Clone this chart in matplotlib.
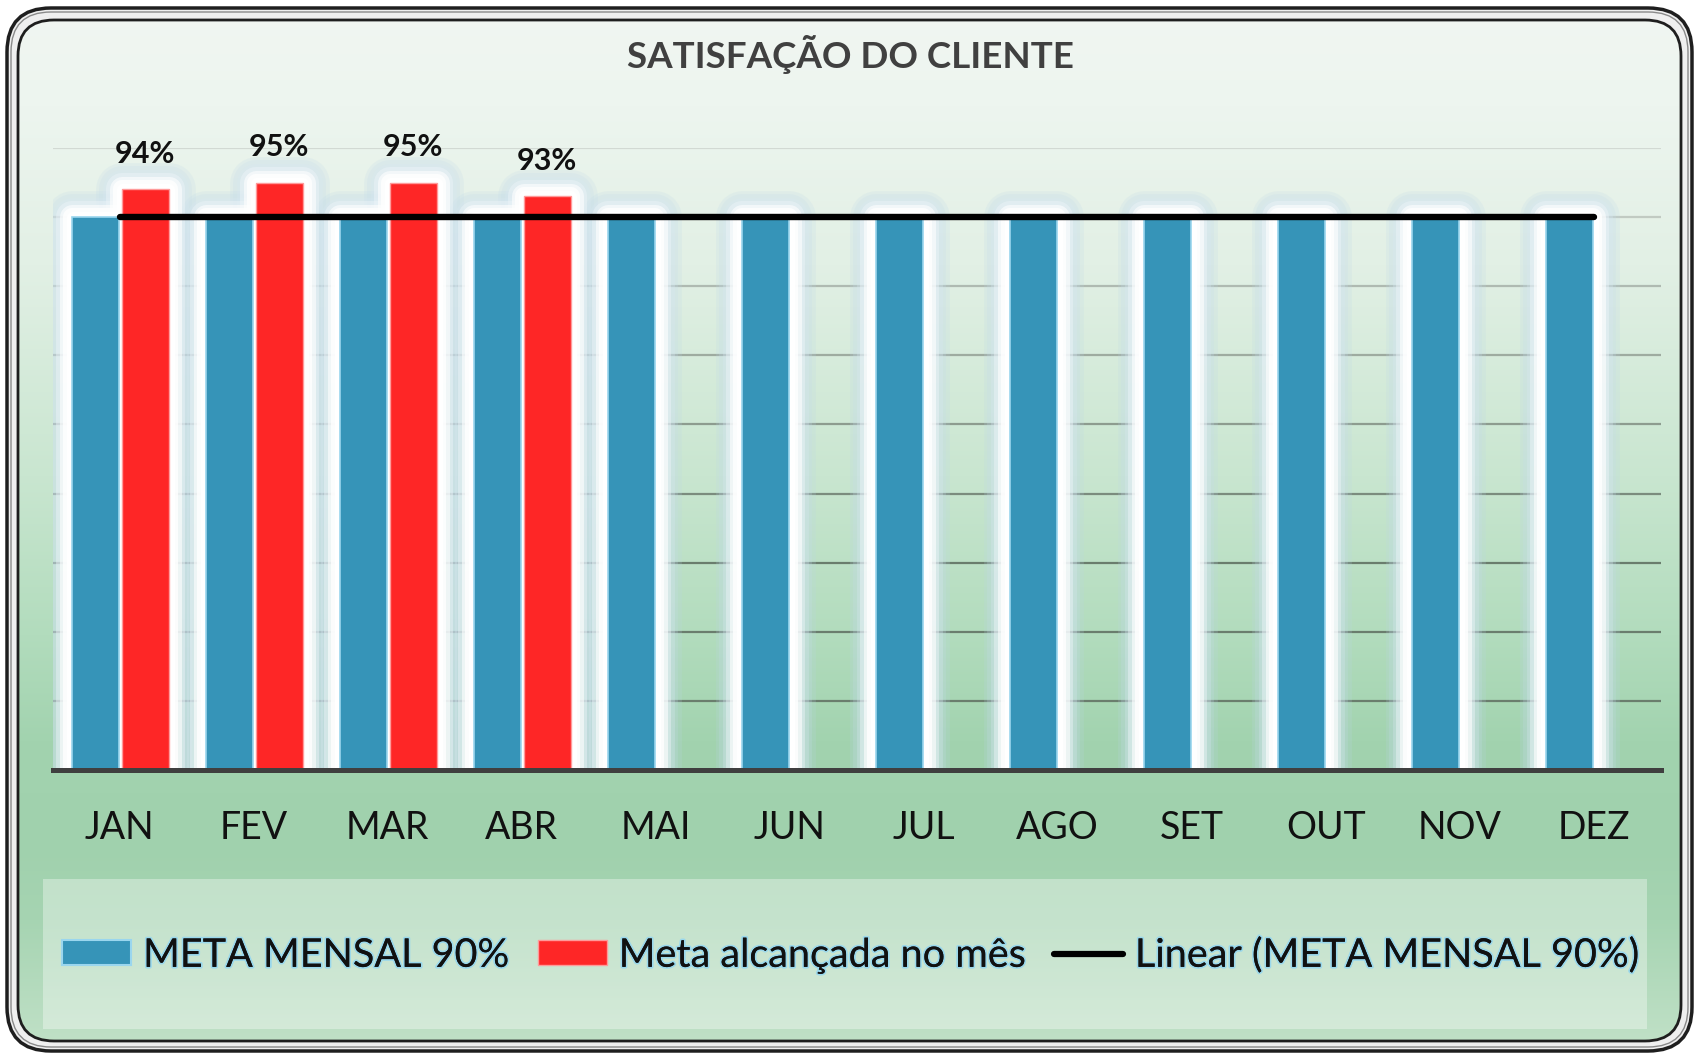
import numpy as np
import matplotlib
matplotlib.use('Agg')
import matplotlib.pyplot as plt
import matplotlib.patheffects as pe
from matplotlib.patches import FancyBboxPatch, Rectangle, Patch
from matplotlib.lines import Line2D
from matplotlib.transforms import IdentityTransform
from matplotlib.colors import to_rgb

# dados
meses = ['JAN', 'FEV', 'MAR', 'ABR', 'MAI', 'JUN', 'JUL', 'AGO', 'SET', 'OUT', 'NOV', 'DEZ']
meta_mensal = [90, 90, 90, 90, 90, 90, 90, 90, 90, 90, 90, 90]
meta_alcancada = [94, 95, 95, 93]
titulo = 'SATISFAÇÃO DO CLIENTE'
rotulos_legenda = ['META MENSAL 90%', 'Meta alcançada no mês', 'Linear (META MENSAL 90%)']

AZUL = '#3694b8'
VERMELHO = '#fe2626'
W, H = 1698, 1058

plt.rcParams['font.family'] = ['Lato', 'DejaVu Sans']

fig = plt.figure(figsize=(W / 100, H / 100), dpi=100)
fig.patch.set_facecolor('white')


def caixa_px(x0, y0, x1, y1, r, **kw):
    # retangulo arredondado em pixels (origem no topo)
    return FancyBboxPatch((x0, H - y1), x1 - x0, y1 - y0,
                          boxstyle=f'round,pad=0,rounding_size={r}',
                          transform=IdentityTransform(), **kw)


# moldura dupla
fig.add_artist(caixa_px(7, 8, 1692, 1051, 44, facecolor='#efefef', edgecolor='#1e1e1e', lw=2.5, zorder=-3))
fig.add_artist(caixa_px(11, 12, 1688, 1047, 40, facecolor='none', edgecolor='#8a8a8a', lw=1, zorder=-3))

# fundo em degrade
paradas = [0.00, 0.10, 0.25, 0.45, 0.60, 0.70, 0.80, 0.87, 1.00]
cores = ['#f1f6f2', '#edf5ef', '#e2f0e5', '#c9e6d0', '#b2dcbd', '#a2d3af', '#a0d1ad', '#a6d4b2', '#c3e2c9']
rgb = np.array([to_rgb(c) for c in cores])
yy = np.linspace(0, 1, 600)
grad = np.stack([np.interp(yy, paradas, rgb[:, k]) for k in range(3)], axis=-1)[:, None, :]

bg = fig.add_axes([0, 0, 1, 1], zorder=-2)
bg.set_axis_off()
im = bg.imshow(grad, aspect='auto', extent=[0, 1, 0, 1], origin='upper')
bg.set_xlim(0, 1)
bg.set_ylim(0, 1)
clip = caixa_px(18, 20, 1681, 1041, 36)
im.set_clip_path(clip)
fig.add_artist(caixa_px(18, 20, 1681, 1041, 36, facecolor='none', edgecolor='#1e1e1e', lw=2, zorder=6))

# area do grafico
ax = fig.add_axes([52.5 / W, 1 - 770 / H, (1660.7 - 52.5) / W, (770 - 148) / H])
ax.set_facecolor('none')

x = np.arange(len(meses))
xa = x[:len(meta_alcancada)]
larg = 0.35

# brilho suave em volta das barras (de fora para dentro)
camadas = [(38, '#bcd6e8', 0.18), (33, '#c6dcec', 0.22), (28, '#d8e8f2', 0.3),
           (23, '#eef5fa', 0.45), (18, 'white', 0.6), (13, 'white', 0.8), (8, 'white', 1.0)]
for lw, cor, a in camadas:
    ax.bar(x - 0.178, meta_mensal, larg, color=cor, edgecolor=cor, lw=lw, alpha=a,
           joinstyle='round', zorder=1)
    ax.bar(xa + 0.192, meta_alcancada, larg, color=cor, edgecolor=cor, lw=lw, alpha=a,
           joinstyle='round', zorder=1)

ax.bar(x - 0.178, meta_mensal, larg, color=AZUL, edgecolor='#9ad6ee', lw=1.2, zorder=2)
ax.bar(xa + 0.192, meta_alcancada, larg, color=VERMELHO, edgecolor='#ff9a9a', lw=1.0, zorder=2)

coef = np.polyfit(x, meta_mensal, 1)
ax.plot(x, np.polyval(coef, x), color='black', lw=4.6, solid_capstyle='round', zorder=3)

for xi, v in zip(xa, meta_alcancada):
    ax.annotate(f'{v}%', (xi + 0.192, v), xytext=(0, 19), textcoords='offset points',
                ha='center', va='baseline', fontsize=22, fontweight='bold', color='#111111')

ax.set_xlim(-0.5, len(meses) - 0.5)
ax.set_ylim(10, 100)
yticks = np.arange(10, 101, 10)
ax.set_yticks(yticks)
ax.set_axisbelow(True)
ax.yaxis.grid(True, lw=1.6)
claro, escuro = np.array(to_rgb('#d2d9d3')), np.array(to_rgb('#6a7d6d'))
for val, gl in zip(yticks, ax.get_ygridlines()):
    t = np.clip((100 - val) / 60, 0, 1)
    gl.set_color(claro + (escuro - claro) * t)
ax.tick_params(axis='y', left=False, labelleft=False)
ax.set_xticks(x, meses)
ax.tick_params(axis='x', length=0, pad=29, labelsize=27, labelcolor='#111111')
for s in ['left', 'right', 'top']:
    ax.spines[s].set_visible(False)
ax.spines['bottom'].set_color('#3f3f3f')
ax.spines['bottom'].set_linewidth(3.6)

fig.text(850 / W, 1 - 54 / H, titulo, ha='center', va='center', fontsize=26.5,
         fontweight='bold', color='#404040')

# legenda
fig.add_artist(Rectangle((43 / W, 1 - 1029 / H), (1647 - 43) / W, (1029 - 879) / H,
                         transform=fig.transFigure, facecolor='white', alpha=0.35,
                         edgecolor='none', zorder=1))
handles = [Patch(facecolor=AZUL, edgecolor='#9ad6ee', lw=1.5),
           Patch(facecolor=VERMELHO, edgecolor='#ff9a9a', lw=1),
           Line2D([], [], color='black', lw=4.5, solid_capstyle='round')]
leg = fig.legend(handles, rotulos_legenda, loc='center', bbox_to_anchor=(851 / W, 1 - 955 / H),
                 ncol=3, frameon=False, fontsize=28.5, handlelength=1.75, handleheight=0.6,
                 handletextpad=0.3, columnspacing=0.7)
for t in leg.get_texts():
    t.set_color('#111111')
    t.set_path_effects([pe.withStroke(linewidth=2.5, foreground='#9ad8ec'), pe.Normal()])

fig.savefig('out.png', dpi=100)
